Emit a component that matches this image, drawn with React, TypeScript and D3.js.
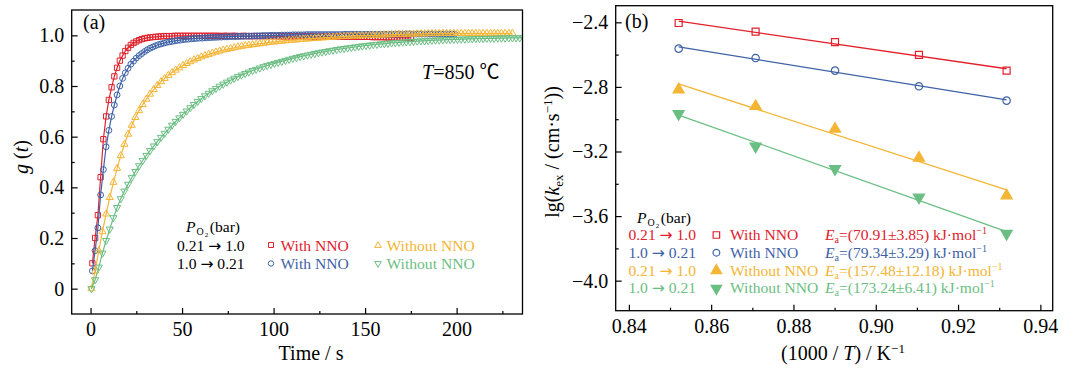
import React, { useEffect, useRef } from 'react';
import * as d3 from 'd3';

// ---- panel (a): g(t), values at a fixed sampling step (s) ----
const redStart = 1, redStep = 1.5;
const redG = [
  0.10, 0.20, 0.29, 0.44, 0.59, 0.68, 0.745, 0.795, 0.838, 0.872,
  0.90, 0.92, 0.938, 0.951, 0.962, 0.97, 0.976, 0.981, 0.985, 0.988,
  0.99, 0.992, 0.993, 0.994, 0.995, 0.996, 0.997,
  0.997, 0.997, 0.997, 0.998, 0.998, 0.998, 0.998, 0.998, 0.998, 0.998,
  0.998, 0.998, 0.998, 0.998, 0.998, 0.998, 0.998, 0.998, 0.998, 0.998,
  0.997, 0.998, 0.998, 0.997, 0.998, 0.998, 0.997, 0.997, 0.998, 0.997,
  0.997, 0.997, 0.997, 0.997, 0.997, 0.997, 0.997, 0.997, 0.997, 0.997,
  0.997, 0.996, 0.996, 0.996, 0.996, 0.996, 0.996, 0.996, 0.996, 0.996,
  0.996, 0.996, 0.996, 0.996, 0.995, 0.995, 0.995, 0.995, 0.995, 0.995,
  0.995, 0.995, 0.995, 0.995, 0.995, 0.995, 0.995, 0.995, 0.995, 0.995,
  0.994, 0.994, 0.994, 0.994, 0.994, 0.993, 0.993, 0.993, 0.993, 0.993,
  0.992, 0.992, 0.992, 0.991, 0.991, 0.991, 0.99, 0.99, 0.99, 0.99,
];

const blueStart = 1, blueStep = 1.5;
const blueG = [
  0.07, 0.15, 0.24, 0.37, 0.47, 0.56, 0.625, 0.68, 0.725, 0.765,
  0.80, 0.83, 0.852, 0.87, 0.886, 0.898, 0.91, 0.92, 0.928, 0.936,
  0.943, 0.949, 0.954, 0.959, 0.963, 0.966, 0.969, 0.972, 0.974, 0.976,
  0.978, 0.98, 0.981, 0.983, 0.984, 0.985, 0.986,
  0.987, 0.988, 0.989, 0.989, 0.99, 0.991, 0.991, 0.992, 0.992, 0.993,
  0.993, 0.994, 0.994, 0.995, 0.995, 0.995, 0.996, 0.996, 0.996, 0.997,
  0.997, 0.997, 0.998, 0.998, 0.998, 0.999, 0.999, 0.999, 1.0, 1.0,
  1.0, 1.0, 1.001, 1.001, 1.001, 1.001, 1.002, 1.002, 1.002, 1.002,
  1.002, 1.003, 1.003, 1.003, 1.003, 1.003, 1.003, 1.003, 1.003, 1.003,
  1.003, 1.003, 1.003, 1.003, 1.003, 1.004, 1.004, 1.004, 1.004, 1.004,
  1.004, 1.004, 1.004, 1.004, 1.004, 1.004, 1.004, 1.004, 1.004, 1.004,
  1.004, 1.004, 1.004, 1.004, 1.004, 1.005, 1.005, 1.005, 1.005, 1.005,
  1.005, 1.005, 1.005, 1.005, 1.005, 1.005, 1.005, 1.005, 1.005, 1.005,
  1.005, 1.005, 1.005, 1.005, 1.005, 1.005,
];

const orangeStart = 0.5, orangeStep = 2;
const orangeG = [
  0.0, 0.07, 0.15, 0.225, 0.295, 0.36, 0.42, 0.475, 0.525, 0.57,
  0.61, 0.645, 0.676, 0.703, 0.727, 0.748, 0.768, 0.786, 0.802, 0.817,
  0.83, 0.842, 0.853, 0.863, 0.872, 0.881, 0.889, 0.896, 0.903, 0.909,
  0.915, 0.92, 0.925, 0.93, 0.934, 0.938, 0.942, 0.945, 0.948, 0.951,
  0.954, 0.957, 0.959, 0.961, 0.963, 0.965, 0.967, 0.969, 0.971, 0.973,
  0.974, 0.976, 0.977, 0.979, 0.98, 0.981, 0.982, 0.984, 0.985, 0.986,
  0.987, 0.988, 0.989, 0.99, 0.991, 0.992, 0.993, 0.994, 0.995, 0.996,
  0.996, 0.997, 0.998, 0.998, 0.999, 0.999, 1.0, 1.0, 1.001, 1.001,
  1.002, 1.002, 1.003, 1.003, 1.004, 1.004, 1.005, 1.005, 1.005, 1.006,
  1.006, 1.006, 1.007, 1.007, 1.007, 1.007, 1.008, 1.008, 1.008, 1.008,
  1.008, 1.008, 1.008, 1.008, 1.008, 1.008, 1.008, 1.008, 1.008, 1.008,
  1.008, 1.008, 1.008, 1.008, 1.008, 1.008,
];

const greenStart = 0.5, greenStep = 2;
const greenG = [
  0.0, 0.035, 0.085, 0.14, 0.19, 0.235, 0.28, 0.32, 0.355, 0.385,
  0.412, 0.438, 0.462, 0.485, 0.506, 0.526, 0.545, 0.563, 0.58, 0.597,
  0.613, 0.629, 0.645, 0.66, 0.674, 0.688, 0.701, 0.714, 0.727, 0.739,
  0.75, 0.761, 0.771, 0.781, 0.79, 0.799, 0.807, 0.815, 0.823, 0.83,
  0.837, 0.843, 0.849, 0.855, 0.861, 0.866, 0.871, 0.876, 0.881, 0.885,
  0.889, 0.893, 0.897, 0.901, 0.905, 0.909, 0.912, 0.916, 0.919, 0.922,
  0.925, 0.928, 0.931, 0.934, 0.936, 0.939, 0.941, 0.944, 0.946, 0.948,
  0.95, 0.952, 0.954, 0.956, 0.958, 0.96, 0.961, 0.963, 0.964, 0.966,
  0.967, 0.968, 0.97, 0.971, 0.972, 0.973, 0.974, 0.975, 0.976, 0.977,
  0.978, 0.978, 0.979, 0.98, 0.981, 0.981, 0.982, 0.983, 0.983, 0.984,
  0.984, 0.985, 0.985, 0.986, 0.986, 0.987, 0.987, 0.987, 0.988, 0.988,
  0.988, 0.989, 0.989, 0.989, 0.99, 0.99, 0.99, 0.99, 0.991,
];

const timeTicks = [0, 50, 100, 150, 200];
const timeMinor = [25, 75, 125, 175, 225];
const gTicks = [0, 0.2, 0.4, 0.6, 0.8, 1.0];
const gMinor = [0.1, 0.3, 0.5, 0.7, 0.9];

// ---- panel (b): lg(k_ex) vs 1000/T ----
const invT = [0.8521, 0.8708, 0.8901, 0.9105, 0.9318];
const redK = [-2.404, -2.458, -2.522, -2.602, -2.699];
const blueK = [-2.563, -2.621, -2.699, -2.796, -2.885];
const orangeK = [-2.817, -2.920, -3.060, -3.240, -3.473];
const greenK = [-2.966, -3.168, -3.308, -3.484, -3.709];

const invTTicks = [0.84, 0.86, 0.88, 0.90, 0.92, 0.94];
const invTMinor = [0.85, 0.87, 0.89, 0.91, 0.93];
const kTicks = [-4.0, -3.6, -3.2, -2.8, -2.4];
const kMinor = [-3.8, -3.4, -3.0, -2.6];

const pFrom = ['0.21', '1.0', '0.21', '1.0'];
const pTo = ['1.0', '0.21', '1.0', '0.21'];
const nnoLabels = ['With NNO', 'With NNO', 'Without NNO', 'Without NNO'];
const eaLabels = ['=(70.91±3.85) kJ·mol', '=(79.34±3.29) kJ·mol', '=(157.48±12.18) kJ·mol', '=(173.24±6.41) kJ·mol'];

const COLORS = ['#e1212c', '#3e62a7', '#f4b535', '#6bbe83'];
const FONT = "'Liberation Serif', 'Times New Roman', Times, 'Noto Sans CJK SC', serif";
const ARROW_FONT = "'DejaVu Sans', sans-serif";

const boxA = { left: 71.7, right: 522.5, top: 10, bottom: 314 };
const boxB = { left: 615.7, right: 1052.7, top: 5.7, bottom: 310.7 };

type Part = { t: string; it?: boolean; shift?: number; size?: number; dx?: number; font?: string };

// text with italic / sub / superscript pieces
const rich = (sel: any, x: number, y: number, parts: Part[], size: number, color = '#000', anchor = 'start') => {
  const text = sel.append('text')
    .attr('x', x).attr('y', y)
    .attr('font-size', size)
    .attr('fill', color)
    .attr('text-anchor', anchor)
    .style('white-space', 'pre');
  let cur = 0;
  parts.forEach(p => {
    const s = p.shift || 0;
    text.append('tspan')
      .attr('dy', s - cur)
      .attr('dx', p.dx || null)
      .attr('font-size', p.size || size)
      .attr('font-style', p.it ? 'italic' : null)
      .attr('font-family', p.font || null)
      .text(p.t);
    cur = s;
  });
  return text;
};

const arrowParts = (a: string, b: string): Part[] => [
  { t: a + ' ' }, { t: '→', font: ARROW_FONT }, { t: ' ' + b },
];

const marker = (sel: any, type: any, area: number, x: number, y: number, color: string, filled: boolean, flip = false, sw = 1) => {
  sel.append('path')
    .attr('d', d3.symbol().type(type).size(area)())
    .attr('transform', `translate(${x},${y})${flip ? ' rotate(180)' : ''}`)
    .attr('fill', filled ? color : 'none')
    .attr('stroke', color)
    .attr('stroke-width', sw);
};

const drawAxes = (svg: any, box: any, x: any, y: any, xMajor: number[], xMinor: number[], yMajor: number[], yMinor: number[], xFmt: any, yFmt: any) => {
  const style = (g: any) => {
    g.select('.domain').remove();
    g.selectAll('line').attr('stroke', '#000').attr('stroke-width', 1.2);
    g.selectAll('text').attr('font-size', 20).attr('font-family', FONT).attr('fill', '#000');
  };
  svg.append('g').attr('transform', `translate(0,${box.bottom})`)
    .call(d3.axisBottom(x).tickValues(xMajor).tickSize(-6).tickPadding(8).tickFormat(xFmt)).call(style);
  svg.append('g').attr('transform', `translate(0,${box.bottom})`)
    .call(d3.axisBottom(x).tickValues(xMinor).tickSize(-3).tickFormat(() => '')).call(style);
  svg.append('g').attr('transform', `translate(${box.left},0)`)
    .call(d3.axisLeft(y).tickValues(yMajor).tickSize(-6).tickPadding(7.5).tickFormat(yFmt)).call(style);
  svg.append('g').attr('transform', `translate(${box.left},0)`)
    .call(d3.axisLeft(y).tickValues(yMinor).tickSize(-3).tickFormat(() => '')).call(style);
  svg.append('rect')
    .attr('x', box.left).attr('y', box.top)
    .attr('width', box.right - box.left).attr('height', box.bottom - box.top)
    .attr('fill', 'none').attr('stroke', '#000').attr('stroke-width', 1.3);
};

const fit = (xs: number[], ys: number[]) => {
  const mx = d3.mean(xs) as number, my = d3.mean(ys) as number;
  const sxy = d3.sum(xs, (v, i) => (v - mx) * (ys[i] - my));
  const sxx = d3.sum(xs, v => (v - mx) ** 2);
  const k = sxy / sxx;
  return [k, my - k * mx];
};

const PO2: Part[] = [{ t: 'P', it: true }, { t: 'O', shift: 3, size: 10, dx: 1 }, { t: '2', shift: 5, size: 7, dx: 1 }, { t: '(bar)', shift: 0, dx: 1.5 }];

const App = () => {
  const ref = useRef<SVGSVGElement>(null);

  useEffect(() => {
    const svg = d3.select(ref.current);
    svg.selectAll('*').remove();
    svg.append('rect').attr('width', 1080).attr('height', 369).attr('fill', '#fff');

    // ---------- panel (a) ----------
    const xA = d3.scaleLinear().domain([-10.3, 236]).range([boxA.left, boxA.right]);
    const yA = d3.scaleLinear().domain([-0.1, 1.1]).range([boxA.bottom, boxA.top]);

    svg.append('clipPath').attr('id', 'clipA').append('rect')
      .attr('x', boxA.left).attr('y', boxA.top)
      .attr('width', boxA.right - boxA.left).attr('height', boxA.bottom - boxA.top);

    const seriesA = [
      { start: redStart, step: redStep, values: redG, type: d3.symbolSquare, area: 28, flip: false },
      { start: blueStart, step: blueStep, values: blueG, type: d3.symbolCircle, area: 27, flip: false },
      { start: orangeStart, step: orangeStep, values: orangeG, type: d3.symbolTriangle, area: 22, flip: false },
      { start: greenStart, step: greenStep, values: greenG, type: d3.symbolTriangle, area: 22, flip: true },
    ];

    const plotA = svg.append('g').attr('clip-path', 'url(#clipA)');
    seriesA.forEach((s, k) => {
      const pts = s.values.map((v, i) => [s.start + i * s.step, v]);
      plotA.append('path')
        .attr('d', d3.line().x(d => xA(d[0])).y(d => yA(d[1]))(pts as any))
        .attr('fill', 'none').attr('stroke', COLORS[k]).attr('stroke-width', 1.2);
      pts.forEach(p => marker(plotA, s.type, s.area, xA(p[0]), yA(p[1]), COLORS[k], false, s.flip, 1));
    });

    drawAxes(svg, boxA, xA, yA, timeTicks, timeMinor, gTicks, gMinor,
      (d: number) => `${d}`, (d: number) => (d === 0 ? '0' : d3.format('.1f')(d)));

    const gA = svg.append('g').attr('font-family', FONT);
    rich(gA, 83, 29, [{ t: '(a)' }], 20);
    rich(gA, 422, 79, [{ t: 'T', it: true }, { t: '=850 ℃' }], 20);
    rich(gA, 311, 360, [{ t: 'Time / s' }], 20, '#000', 'middle');
    rich(gA, 0, 0, [{ t: 'g', it: true }, { t: ' (' }, { t: 't', it: true }, { t: ')' }], 20, '#000', 'middle')
      .attr('transform', 'translate(28,157) rotate(-90)');

    // legend (a)
    rich(gA, 186, 232, PO2, 15.6);
    rich(gA, 177, 250.5, arrowParts(pFrom[0], pTo[0]), 15.6);
    rich(gA, 177, 269, arrowParts(pFrom[1], pTo[1]), 15.6);
    marker(gA, d3.symbolSquare, 25, 271, 245, COLORS[0], false, false, 1);
    rich(gA, 280.5, 250.5, [{ t: nnoLabels[0] }], 15.6, COLORS[0]);
    marker(gA, d3.symbolCircle, 23, 271, 263.5, COLORS[1], false, false, 1);
    rich(gA, 280.5, 269, [{ t: nnoLabels[1] }], 15.6, COLORS[1]);
    marker(gA, d3.symbolTriangle, 19, 378, 245.5, COLORS[2], false, false, 1);
    rich(gA, 386.5, 250.5, [{ t: nnoLabels[2] }], 15.6, COLORS[2]);
    marker(gA, d3.symbolTriangle, 19, 378, 263.5, COLORS[3], false, true, 1);
    rich(gA, 386.5, 269, [{ t: nnoLabels[3] }], 15.6, COLORS[3]);

    // ---------- panel (b) ----------
    const xB = d3.scaleLinear().domain([0.8368, 0.943]).range([boxB.left, boxB.right]);
    const yB = d3.scaleLinear().domain([-4.186, -2.297]).range([boxB.bottom, boxB.top]);

    const seriesB = [
      { values: redK, type: d3.symbolSquare, area: 49, filled: false, flip: false },
      { values: blueK, type: d3.symbolCircle, area: 43, filled: false, flip: false },
      { values: orangeK, type: d3.symbolTriangle, area: 54, filled: true, flip: false },
      { values: greenK, type: d3.symbolTriangle, area: 54, filled: true, flip: true },
    ];

    const plotB = svg.append('g');
    seriesB.forEach((s, k) => {
      const [slope, icpt] = fit(invT, s.values);
      const x0 = invT[0], x1 = invT[invT.length - 1];
      plotB.append('line')
        .attr('x1', xB(x0)).attr('y1', yB(slope * x0 + icpt))
        .attr('x2', xB(x1)).attr('y2', yB(slope * x1 + icpt))
        .attr('stroke', COLORS[k]).attr('stroke-width', 1.3);
    });
    seriesB.forEach((s, k) => {
      s.values.forEach((v, i) => marker(plotB, s.type, s.area, xB(invT[i]), yB(v), COLORS[k], s.filled, s.flip, 1.2));
    });

    drawAxes(svg, boxB, xB, yB, invTTicks, invTMinor, kTicks, kMinor,
      d3.format('.2f'), d3.format('.1f'));

    const gB = svg.append('g').attr('font-family', FONT);
    rich(gB, 625, 28, [{ t: '(b)' }], 20);
    rich(gB, 843, 360, [{ t: '(1000 / ' }, { t: 'T', it: true }, { t: ') / K' }, { t: '−1', shift: -7, size: 13 }], 20, '#000', 'middle');
    rich(gB, 0, 0, [{ t: 'lg(' }, { t: 'k', it: true }, { t: 'ex', shift: 4, size: 13 }, { t: ' / (cm·s', shift: 0 }, { t: '−1', shift: -7, size: 13 }, { t: '))', shift: 0 }], 20, '#000', 'middle')
      .attr('transform', 'translate(559,152) rotate(-90)');

    // legend (b)
    rich(gB, 637, 223, PO2, 15.6);
    const rowsY = [240, 257.8, 275.6, 293.4];
    rowsY.forEach((ry, k) => {
      const s = seriesB[k];
      rich(gB, 628.4, ry, arrowParts(pFrom[k], pTo[k]), 15.6, COLORS[k]);
      const area = s.filled ? 48 : (k === 0 ? 42 : 36);
      marker(gB, s.type, area, 716.4, ry - 5, COLORS[k], s.filled, s.flip, 1.2);
      rich(gB, 730, ry, [{ t: nnoLabels[k] }], 15.6, COLORS[k]);
      rich(gB, 825, ry, [{ t: 'E', it: true }, { t: 'a', shift: 3, size: 10 }, { t: eaLabels[k], shift: 0 }, { t: '−1', shift: -6, size: 10 }], 15.6, COLORS[k]);
    });
  }, []);

  return (
    <svg ref={ref} width={1080} height={369}
      style={{ position: 'absolute', left: 0, top: 0, display: 'block' }} />
  );
};

export default App;
